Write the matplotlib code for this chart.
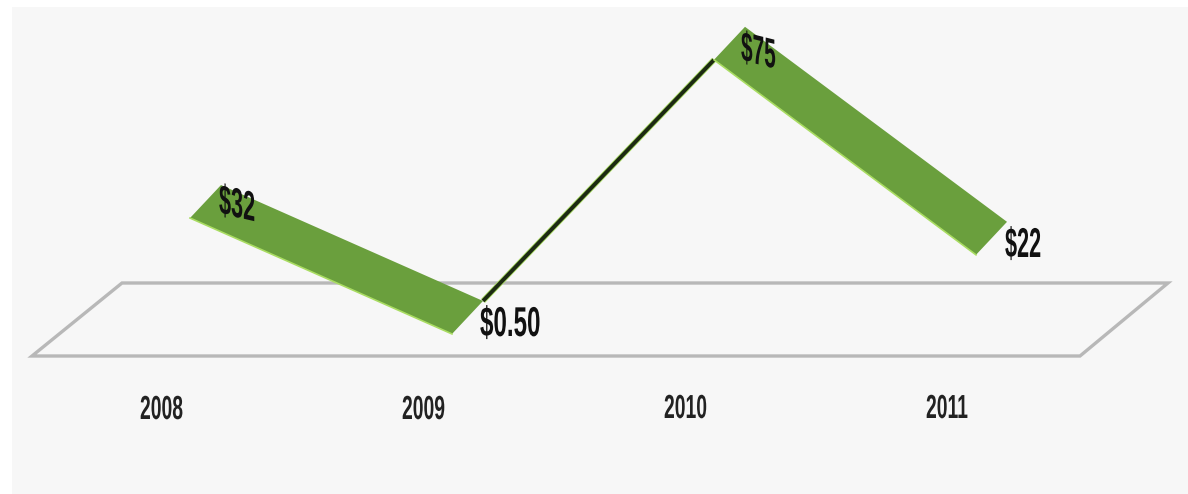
import matplotlib
matplotlib.use("Agg")
import matplotlib.pyplot as plt
from matplotlib.patches import Polygon, Rectangle
from matplotlib.patheffects import AbstractPathEffect
from matplotlib.transforms import Affine2D

years = ["2008", "2009", "2010", "2011"]
profits = [32, 0.5, 75, 22]
value_labels = ["$32", "$0.50", "$75", "$22"]

W, H = 1188, 494
GREEN = "#6a9f3d"
EDGE = "#a9dc62"
DARK = "#1c2a12"
GRID = "#b8b8b8"
BG = "#f7f7f7"
FONT = ["Liberation Sans", "DejaVu Sans"]


class Condensed(AbstractPathEffect):
    """Squeeze glyph outlines horizontally and shear the baseline about the text anchor."""

    def __init__(self, sx, shear_deg=0.0):
        super().__init__()
        self.sx = sx
        self.shear_deg = shear_deg

    def draw_path(self, renderer, gc, tpath, affine, rgbFace=None):
        local = Affine2D().scale(self.sx, 1.0).skew_deg(0, self.shear_deg)
        renderer.draw_path(gc, tpath, local + affine, rgbFace)


fig = plt.figure(figsize=(W / 100, H / 100), dpi=100, facecolor="white")
# Axes span the whole figure; x runs over year positions, y over dollars.
ax = fig.add_axes([0, 0, 1, 1])
x_per_px = 1 / 262.0
y_per_px = 1 / 3.68
ax.set_xlim(-190 * x_per_px, (W - 190) * x_per_px)
ax.set_ylim(-(H - 335.8) * y_per_px, 335.8 * y_per_px)
ax.axis("off")


def depth(x, y, dx_px, dy_px):
    """Shift a point back into the oblique depth direction, given in pixels."""
    return x + dx_px * x_per_px, y + dy_px * y_per_px


def px(xp, yp):
    """Pixel position from the top-left corner in data units."""
    return (xp - 190) * x_per_px, (335.8 - yp) * y_per_px


# Panel behind the chart
x0, y0 = px(12, H)
x1, y1 = px(W, 7)
ax.add_patch(Rectangle((x0, y0), x1 - x0, y1 - y0, fc=BG, ec="none", zorder=0))

# Oblique floor plane
floor = [px(32, 356), px(1080, 356), px(1168, 283), px(122, 283)]
ax.add_patch(Polygon(floor, closed=True, fc="none", ec=GRID, lw=2.4, zorder=1, joinstyle="miter"))

# Ribbon: one quad per year-to-year segment
RIBBON_DX, RIBBON_DY = 31, 33
for i in range(len(profits) - 1):
    a = (i, profits[i])
    b = (i + 1, profits[i + 1])
    back_a = depth(*a, RIBBON_DX, RIBBON_DY)
    back_b = depth(*b, RIBBON_DX, RIBBON_DY)
    if profits[i + 1] > profits[i]:
        # This segment is seen nearly edge-on, so only a dark sliver shows.
        ax.plot([back_a[0], b[0]], [back_a[1], b[1]], color=EDGE, lw=4.0,
                solid_capstyle="butt", zorder=2)
        ax.plot([back_a[0], b[0]], [back_a[1], b[1]], color=DARK, lw=2.8,
                solid_capstyle="butt", zorder=2)
    else:
        ax.add_patch(Polygon([a, b, back_b, back_a], closed=True, fc=GREEN, ec="none", zorder=3))
        ax.plot([a[0], b[0]], [a[1], b[1]], color=EDGE, lw=1.2, zorder=3)

# Value labels: left end of the baseline, in pixels, with the baseline shear of each label
value_anchor_x = [219, 480, 741, 1005]
value_anchor_y = [213, 336, 60, 257]
value_shear = [-13, 0, -14, 0]
value_squeeze = [0.52, 0.58, 0.50, 0.52]
for txt, xp, yp, shear, sq in zip(value_labels, value_anchor_x, value_anchor_y, value_shear, value_squeeze):
    lx, ly = px(xp, yp)
    ax.text(lx, ly, txt, family=FONT, fontsize=30, fontweight="bold", color="#111111",
            ha="left", va="baseline", parse_math=False, zorder=5,
            path_effects=[Condensed(sq, shear)])

# Year labels under the floor
year_anchor_x = [140, 402, 664, 926]
year_anchor_y = [419, 419, 418, 418]
for xp, yp, year in zip(year_anchor_x, year_anchor_y, years):
    lx, ly = px(xp, yp)
    ax.text(lx, ly, year, family=FONT, fontsize=24, fontweight="bold", color="#222222",
            ha="left", va="baseline", zorder=5, path_effects=[Condensed(0.58)])

fig.savefig("out.png", dpi=100, facecolor="white")
